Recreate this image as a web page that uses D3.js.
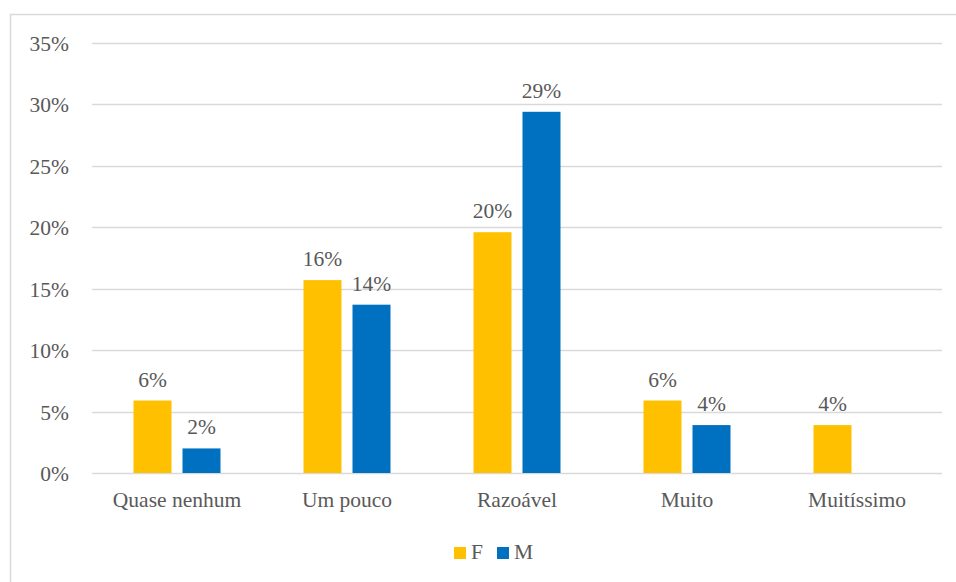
<!DOCTYPE html>
<html>
<head>
<meta charset="utf-8">
<script src="https://cdn.jsdelivr.net/npm/d3@7"></script>
<style>
  body { margin: 0; background: #fff; }
  svg text { font-family: "Liberation Serif", "DejaVu Serif", serif; }
</style>
</head>
<body>
<svg id="chart" width="956" height="582"></svg>
<script>
// Chart values
const categories = ["Quase nenhum", "Um pouco", "Razoável", "Muito", "Muitíssimo"];
const series_names = ["F", "M"];
const f_values = [0.059, 0.157, 0.196, 0.059, 0.039];
const m_values = [0.020, 0.137, 0.294, 0.039, null];
const y_ticks = [0, 0.05, 0.10, 0.15, 0.20, 0.25, 0.30, 0.35];
const colours = {F: "#FFC000", M: "#0070C0"};

const svg = d3.select("#chart");
const text_colour = "#595959";
const font_size = "21.5px";

// outer frame (right and bottom edges fall outside the window)
svg.append("rect")
    .attr("x", 10.5).attr("y", 14.5)
    .attr("width", 960).attr("height", 600)
    .attr("fill", "none")
    .attr("stroke", "#d9d9d9")
    .attr("stroke-width", 1.5);

const plot = {left: 92, right: 942, top: 43, bottom: 473};

const x = d3.scaleBand()
    .domain(categories)
    .range([plot.left, plot.right]);

// two bars per group, 38px wide with an 11px gap
const x_inner = d3.scaleBand()
    .domain(series_names)
    .range([x.bandwidth()/2 - 43.5, x.bandwidth()/2 + 43.5])
    .paddingInner(0.2245);

const y = d3.scaleLinear()
    .domain([0, 0.35])
    .range([plot.bottom, plot.top]);

// gridlines
svg.append("g")
    .selectAll("line")
    .data(y_ticks)
    .join("line")
    .attr("x1", plot.left).attr("x2", plot.right)
    .attr("y1", d => Math.round(y(d)) + 0.5)
    .attr("y2", d => Math.round(y(d)) + 0.5)
    .attr("stroke", "#d9d9d9")
    .attr("stroke-width", 1.3);

// y axis labels
const y_axis = svg.append("g")
    .attr("transform", `translate(${plot.left - 23},0)`)
    .call(d3.axisLeft(y).tickValues(y_ticks).tickFormat(d3.format(".0%")).tickSize(0).tickPadding(0));
y_axis.attr("font-family", null);
y_axis.select(".domain").remove();
y_axis.selectAll("text")
    .attr("fill", text_colour)
    .attr("font-size", font_size)
    .attr("dy", "0.35em");

// x axis labels
const x_axis = svg.append("g")
    .attr("transform", `translate(0,${plot.bottom})`)
    .call(d3.axisBottom(x).tickSize(0).tickPadding(0));
x_axis.attr("font-family", null);
x_axis.select(".domain").remove();
x_axis.selectAll("text")
    .attr("fill", text_colour)
    .attr("font-size", font_size)
    .attr("dy", "1.6em");

// bars
const rows = categories.map((c, i) => ({
    category: c,
    values: [{key: "F", value: f_values[i]}, {key: "M", value: m_values[i]}].filter(v => v.value !== null)
}));

const groups = svg.append("g")
    .selectAll("g")
    .data(rows)
    .join("g")
    .attr("transform", d => `translate(${x(d.category)},0)`);

groups.selectAll("rect")
    .data(d => d.values)
    .join("rect")
    .attr("x", d => x_inner(d.key))
    .attr("width", x_inner.bandwidth())
    .attr("y", d => y(d.value))
    .attr("height", d => y(0) - y(d.value))
    .attr("fill", d => colours[d.key]);

groups.selectAll("text")
    .data(d => d.values)
    .join("text")
    .attr("x", d => x_inner(d.key) + x_inner.bandwidth()/2)
    .attr("y", d => y(d.value) - 14)
    .attr("text-anchor", "middle")
    .attr("fill", text_colour)
    .attr("font-size", font_size)
    .text(d => d3.format(".0%")(d.value));

// legend
const legend = svg.append("g").attr("transform", "translate(454,547)");
const legend_items = legend.selectAll("g")
    .data(series_names)
    .join("g")
    .attr("transform", (d, i) => `translate(${i * 43},0)`);
legend_items.append("rect")
    .attr("width", 12).attr("height", 12)
    .attr("fill", d => colours[d]);
legend_items.append("text")
    .attr("x", 17).attr("y", 12)
    .attr("fill", text_colour)
    .attr("font-size", font_size)
    .text(d => d);
</script>
</body>
</html>
